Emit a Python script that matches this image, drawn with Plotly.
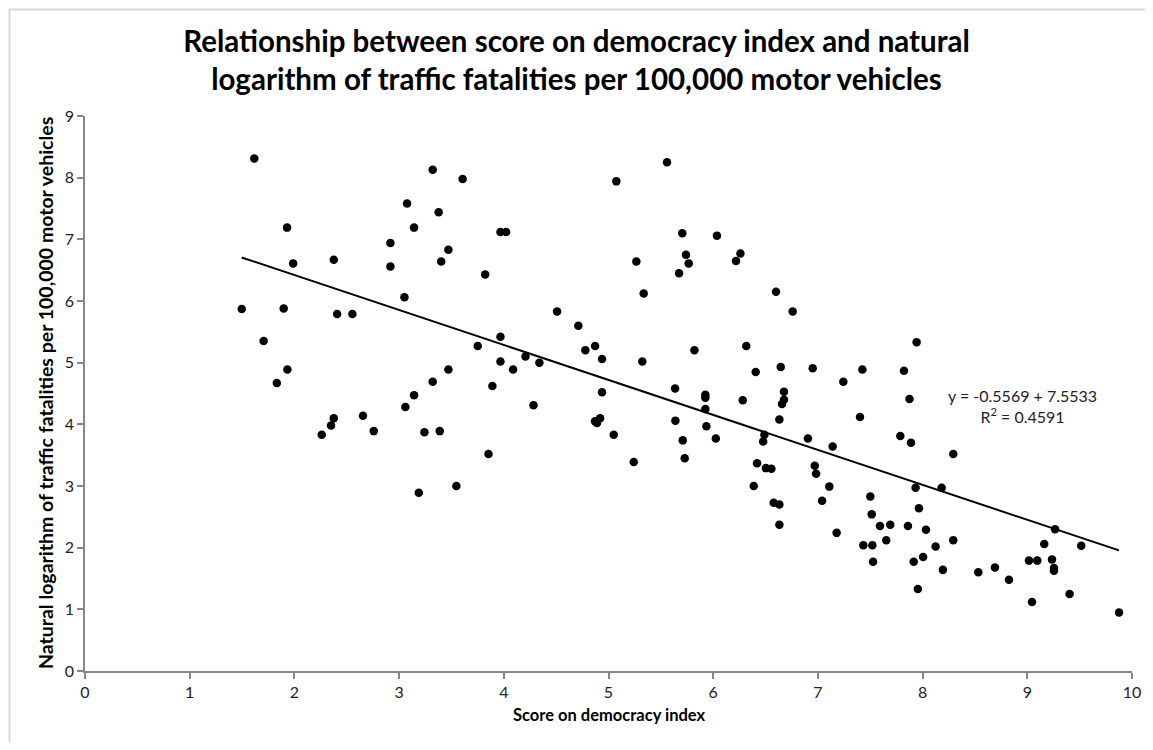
import plotly.graph_objects as go

# Score on democracy index (x) and ln(traffic fatalities per 100,000 motor vehicles) (y)
democracy_score = [
    1.497, 1.617, 1.706, 1.832, 1.898, 1.930, 1.933, 1.988,
    2.261, 2.350, 2.376, 2.376, 2.408, 2.554, 2.655, 2.758,
    2.917, 2.917, 3.051, 3.060, 3.076, 3.143, 3.143, 3.188, 3.242, 3.321, 3.321,
    3.378, 3.388, 3.402, 3.471, 3.471, 3.547, 3.607,
    3.751, 3.822, 3.854, 3.891, 3.968, 4.022, 3.968, 3.968, 4.089, 4.207, 4.284, 4.340,
    4.509, 4.712, 4.779, 4.872, 4.871, 4.890, 4.920, 4.938, 4.938, 5.050, 5.075,
    5.241, 5.266, 5.336, 5.323,
    5.559, 5.636, 5.639, 5.674, 5.705, 5.709, 5.728, 5.740, 5.766, 5.821,
    5.925, 5.925, 5.925, 5.935, 6.025, 6.036,
    6.218, 6.260, 6.282, 6.316, 6.387, 6.406, 6.419, 6.477, 6.489, 6.503, 6.556,
    6.578, 6.600, 6.632, 6.632, 6.632, 6.645, 6.676, 6.676, 6.657, 6.759,
    6.905, 6.950, 6.970, 6.983, 7.040, 7.109, 7.141, 7.179, 7.243, 7.402, 7.425,
    7.434, 7.501, 7.514, 7.520, 7.527,
    7.593, 7.653, 7.691, 7.787, 7.822, 7.860, 7.875, 7.889, 7.915, 7.933, 7.943,
    7.955, 7.965, 8.005, 8.032, 8.124, 8.182, 8.194, 8.293, 8.293,
    8.532, 8.691, 8.825, 9.016, 9.045, 9.095, 9.162, 9.236, 9.265, 9.255, 9.255,
    9.404, 9.515, 9.876,
]
log_fatalities = [
    5.87, 8.31, 5.35, 4.67, 5.88, 7.19, 4.89, 6.61,
    3.83, 3.98, 4.10, 6.67, 5.79, 5.79, 4.14, 3.89,
    6.94, 6.56, 6.06, 4.28, 7.58, 7.19, 4.47, 2.89, 3.87, 8.13, 4.69,
    7.44, 3.89, 6.64, 6.83, 4.89, 3.00, 7.98,
    5.27, 6.43, 3.52, 4.62, 7.12, 7.12, 5.42, 5.02, 4.89, 5.10, 4.31, 5.00,
    5.83, 5.60, 5.20, 5.27, 4.05, 4.02, 4.10, 5.06, 4.52, 3.83, 7.94,
    3.39, 6.64, 6.12, 5.02,
    8.25, 4.58, 4.06, 6.45, 7.10, 3.74, 3.45, 6.75, 6.61, 5.20,
    4.48, 4.43, 4.25, 3.97, 3.77, 7.06,
    6.65, 6.77, 4.39, 5.27, 3.00, 4.85, 3.37, 3.72, 3.83, 3.29, 3.28,
    2.73, 6.15, 2.70, 2.37, 4.08, 4.93, 4.53, 4.40, 4.33, 5.83,
    3.77, 4.91, 3.33, 3.20, 2.76, 2.99, 3.64, 2.24, 4.69, 4.12, 4.89,
    2.04, 2.83, 2.54, 2.04, 1.77,
    2.35, 2.12, 2.37, 3.81, 4.87, 2.35, 4.41, 3.70, 1.77, 2.97, 5.33,
    1.33, 2.64, 1.85, 2.29, 2.02, 2.97, 1.64, 3.52, 2.12,
    1.60, 1.68, 1.48, 1.79, 1.12, 1.79, 2.06, 1.81, 2.30, 1.67, 1.625,
    1.25, 2.03, 0.95,
]

# Linear trend line as drawn in the chart
trend_slope = -0.567
trend_intercept = 7.555
equation_text = "y = -0.5569 + 7.5533<br>R<sup>2</sup> = 0.4591"

x_ticks = list(range(0, 11))
y_ticks = list(range(0, 10))

FONT = "Lato"
AXIS_GRAY = "#868686"
TEXT_COLOR = "#222222"

x_min, x_max = min(democracy_score), max(democracy_score)
trend_x = [x_min, x_max]
trend_y = [trend_intercept + trend_slope * v for v in trend_x]

fig = go.Figure()
fig.add_trace(go.Scatter(
    x=democracy_score, y=log_fatalities, mode="markers",
    marker=dict(color="black", size=8.5, line=dict(width=0)),
    showlegend=False, hoverinfo="x+y",
))
fig.add_trace(go.Scatter(
    x=trend_x, y=trend_y, mode="lines",
    line=dict(color="black", width=2),
    showlegend=False, hoverinfo="skip",
))

# page body has an 8px margin; figure sized to fit the window without overflow
W, H = 1137, 734
L, R, T, B = 76.5, 13.3, 107.6, 71
PW = W - L - R
PH = H - T - B


def px_to_paper_x(f):
    return (f - L) / PW


def px_to_paper_y(g):
    return (H - B - g) / PH


fig.update_layout(
    width=W, height=H, autosize=False,
    margin=dict(l=L, r=R, t=T, b=B, pad=0, autoexpand=False),
    paper_bgcolor="white", plot_bgcolor="white",
    font=dict(family=FONT, color=TEXT_COLOR),
    title=dict(
        text="Relationship between score on democracy index and natural<br>logarithm of traffic fatalities per 100,000 motor vehicles",
        x=0.5, xanchor="center", y=1 - 44 / H, yanchor="middle",
        font=dict(family=FONT, size=29.5, color="black", weight="bold"),
        automargin=False,
    ),
    xaxis=dict(
        range=[0, 10], tickvals=x_ticks, showgrid=False, zeroline=False,
        showline=True, linecolor=AXIS_GRAY, linewidth=1.5,
        ticks="outside", ticklen=6, tickcolor=AXIS_GRAY, tickwidth=1.5,
        tickfont=dict(family=FONT, size=16, color=TEXT_COLOR),
        fixedrange=True, automargin=False,
    ),
    yaxis=dict(
        range=[0, 9], tickvals=y_ticks, showgrid=False, zeroline=False,
        showline=True, linecolor=AXIS_GRAY, linewidth=1.5,
        ticks="outside", ticklen=6, tickcolor=AXIS_GRAY, tickwidth=1.5,
        tickfont=dict(family=FONT, size=16, color=TEXT_COLOR),
        fixedrange=True, automargin=False,
    ),
    annotations=[
        dict(text="Score on democracy index", xref="paper", yref="paper",
             x=0.5, y=px_to_paper_y(707), xanchor="center", yanchor="middle",
             showarrow=False, font=dict(family=FONT, size=16.5, color="black", weight="bold")),
        dict(text="Natural logarithm of traffic fatalities per 100,000 motor vehicles",
             xref="paper", yref="paper", textangle=-90,
             x=px_to_paper_x(37), y=0.5, xanchor="center", yanchor="middle",
             showarrow=False, font=dict(family=FONT, size=19.5, color="black", weight="bold")),
        dict(text=equation_text, xref="x", yref="y", x=8.95, y=4.3,
             xanchor="center", yanchor="middle", showarrow=False, align="center",
             font=dict(family=FONT, size=16, color=TEXT_COLOR)),
    ],
    shapes=[
        dict(type="line", xref="paper", yref="paper",
             x0=px_to_paper_x(0), x1=px_to_paper_x(W),
             y0=px_to_paper_y(1), y1=px_to_paper_y(1),
             line=dict(color="#d9d9d9", width=2), layer="below"),
        dict(type="line", xref="paper", yref="paper",
             x0=px_to_paper_x(1), x1=px_to_paper_x(1),
             y0=px_to_paper_y(1), y1=px_to_paper_y(H),
             line=dict(color="#d9d9d9", width=2), layer="below"),
    ],
)

fig.write_html("out.html")
